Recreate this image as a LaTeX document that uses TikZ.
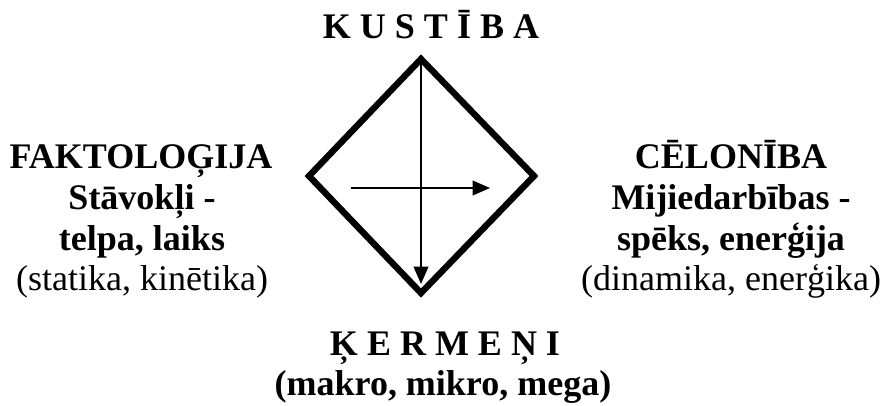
\documentclass[tikz,border=0pt]{standalone}
\usepackage{fontspec}
\setmainfont{Liberation Serif}
\usetikzlibrary{arrows.meta}

\tikzset{
  txt/.style={anchor=base,inner sep=0pt,font=\fontsize{27}{30}\selectfont\bfseries},
  txtn/.style={txt,font=\fontsize{27}{30}\selectfont},
  arr/.style={line width=1.2pt,-{Triangle[length=13pt,width=11pt]}}
}

\begin{document}
\begin{tikzpicture}[x=0.75pt,y=-0.75pt]
\useasboundingbox (0,0) rectangle (882,405);
\coordinate (T) at (421,59); \coordinate (R) at (534,176); \coordinate (B) at (421,293); \coordinate (L) at (309,176);
\draw[line width=4.8pt,miter limit=4] (T)--(R)--(B)--(L)--cycle;
% arrows inside the square
\coordinate (vEnd) at (421,284); \coordinate (hStart) at (351,188); \coordinate (hEnd) at (490,188);
\draw[arr] (T)--(vEnd);
\draw[arr] (hStart)--(hEnd);
% top and bottom
\node[txt] (kust) at (431,38) {K U S T Ī B A};
\node[txt] (kerm) at (445,355) {Ķ E R M E Ņ I};
\node[txt] (kerm2) at (443,395) {(makro, mikro, mega)};
% left side
\node[txt] (fakt1) at (141,168) {FAKTOLOĢIJA};
\node[txt] (fakt2) at (142,209) {Stāvokļi -};
\node[txt] (fakt3) at (142,250) {telpa, laiks};
\node[txtn] (fakt4) at (142,290) {(statika, kinētika)};
% right side
\node[txt] (celo1) at (731,168) {CĒLONĪBA};
\node[txt] (celo2) at (731,209) {Mijiedarbības -};
\node[txt] (celo3) at (731,250) {spēks, enerģija};
\node[txtn] (celo4) at (731,290) {(dinamika, enerģika)};
\end{tikzpicture}
\end{document}
